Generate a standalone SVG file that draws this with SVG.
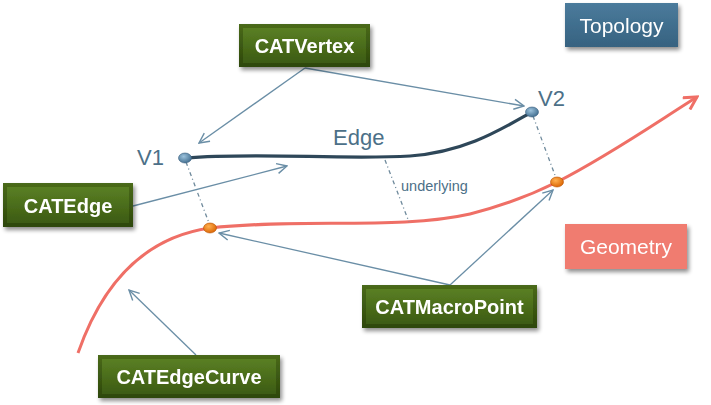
<svg xmlns="http://www.w3.org/2000/svg" width="711" height="405" viewBox="0 0 711 405">
<defs>
<linearGradient id="gOuter" x1="0" y1="0" x2="0" y2="1"><stop offset="0" stop-color="#4a6a1a"/><stop offset="1" stop-color="#2d470b"/></linearGradient>
<linearGradient id="gInner" x1="0" y1="0" x2="0" y2="1"><stop offset="0" stop-color="#5a7f24"/><stop offset="1" stop-color="#3c5b12"/></linearGradient>
<linearGradient id="gBlue" x1="0" y1="0" x2="0" y2="1"><stop offset="0" stop-color="#4b7b9c"/><stop offset="1" stop-color="#366280"/></linearGradient>
<radialGradient id="gDotB" cx="0.4" cy="0.35" r="0.7"><stop offset="0" stop-color="#9cc2dc"/><stop offset="1" stop-color="#3d6a8c"/></radialGradient>
<radialGradient id="gDotO" cx="0.4" cy="0.35" r="0.7"><stop offset="0" stop-color="#ffb050"/><stop offset="1" stop-color="#d96200"/></radialGradient>
<filter id="sh" x="-10%" y="-10%" width="130%" height="140%"><feGaussianBlur in="SourceAlpha" stdDeviation="2"/><feOffset dx="2" dy="3"/><feComponentTransfer><feFuncA type="linear" slope="0.45"/></feComponentTransfer><feMerge><feMergeNode/><feMergeNode in="SourceGraphic"/></feMerge></filter>
<marker id="ah" viewBox="0 0 12 12" refX="11" refY="6" markerWidth="12" markerHeight="12" markerUnits="userSpaceOnUse" orient="auto"><path d="M1,1 L11,6 L1,11" fill="none" stroke="#6a8ea6" stroke-width="1.4"/></marker>
<marker id="ahR" viewBox="0 0 14 14" refX="12" refY="7" markerWidth="16" markerHeight="16" markerUnits="userSpaceOnUse" orient="auto"><path d="M1,1 L12,7 L1,13" fill="none" stroke="#ef6f66" stroke-width="2.6" stroke-linejoin="miter"/></marker>
</defs>
<style>
.gbtxt{font-family:"Liberation Sans",Arial,sans-serif;font-weight:bold;font-size:20px;fill:#ffffff;text-anchor:middle}
.conn{fill:none;stroke:#6a8ea6;stroke-width:1.3;marker-end:url(#ah)}
.dot{fill:none;stroke:#6f8a9c;stroke-width:1.3;stroke-dasharray:4 3 1 3}
.lbl{font-family:"Liberation Sans",Arial,sans-serif;fill:#4c7088}
</style>
<rect width="711" height="405" fill="#ffffff"/>

<g id="curves">
<path d="M78,353 C100,290 140,238 210,228 C300,218 400,230 470,214 C510,204 535,193 557,182 C610,155 660,120 697,97" fill="none" stroke="#ef6f66" stroke-width="3" marker-end="url(#ahR)"/>
<path d="M185,158 C260,152 340,160 410,156 C465,152 500,130 532,112" fill="none" stroke="#2e4759" stroke-width="3.2"/>
</g>

<g id="connectors">
<line class="dot" x1="186" y1="162" x2="209" y2="223"/>
<line class="dot" x1="533" y1="116" x2="556" y2="178"/>
<line class="dot" x1="385" y1="160" x2="409" y2="222"/>
<path class="conn" d="M305,68 L199,143"/>
<path class="conn" d="M305,68 L524,106"/>
<path class="conn" d="M133,206 L287,166"/>
<path class="conn" d="M450,285 L219,233"/>
<path class="conn" d="M450,285 L553,190"/>
<path class="conn" d="M196,355 L129,290"/>
</g>

<g id="points">
<ellipse cx="185" cy="158" rx="6.5" ry="5" fill="url(#gDotB)" stroke="#3a6080" stroke-width="0.6"/>
<ellipse cx="532" cy="112" rx="6.5" ry="5" fill="url(#gDotB)" stroke="#3a6080" stroke-width="0.6"/>
<ellipse cx="210" cy="228" rx="6.5" ry="5" fill="url(#gDotO)" stroke="#b85000" stroke-width="0.6"/>
<ellipse cx="557" cy="182" rx="6.5" ry="5" fill="url(#gDotO)" stroke="#b85000" stroke-width="0.6"/>
</g>

<g id="labels">
<text class="lbl" x="137" y="165" font-size="22">V1</text>
<text class="lbl" x="538" y="106" font-size="22">V2</text>
<text class="lbl" x="333" y="145" font-size="22">Edge</text>
<text class="lbl" x="401" y="191" font-size="14.5" fill="#7890a0">underlying</text>
</g>

<g id="topology" filter="url(#sh)">
<rect x="565" y="3" width="113" height="44" fill="url(#gBlue)"/>
<text x="621.5" y="32.5" font-family="Liberation Sans,Arial,sans-serif" font-size="21" fill="#ffffff" text-anchor="middle">Topology</text>
</g>

<g id="geometry" filter="url(#sh)">
<rect x="565" y="224" width="122" height="45" fill="#f07b70"/>
<text x="626" y="254" font-family="Liberation Sans,Arial,sans-serif" font-size="21" fill="#ffffff" text-anchor="middle">Geometry</text>
</g>

<g id="catvertex" filter="url(#sh)">
<rect x="239" y="24" width="131" height="43" fill="url(#gOuter)"/>
<rect x="243" y="28" width="123" height="35" fill="url(#gInner)"/>
<text class="gbtxt" x="304.5" y="53">CATVertex</text>
</g>

<g id="catedge" filter="url(#sh)">
<rect x="3" y="183" width="130" height="44" fill="url(#gOuter)"/>
<rect x="7" y="187" width="122" height="36" fill="url(#gInner)"/>
<text class="gbtxt" x="68" y="212.5">CATEdge</text>
</g>

<g id="catmacropoint" filter="url(#sh)">
<rect x="362" y="285" width="175" height="43" fill="url(#gOuter)"/>
<rect x="366" y="289" width="167" height="35" fill="url(#gInner)"/>
<text class="gbtxt" x="449.5" y="314">CATMacroPoint</text>
</g>

<g id="catedgecurve" filter="url(#sh)">
<rect x="98" y="355" width="182" height="43" fill="url(#gOuter)"/>
<rect x="102" y="359" width="174" height="35" fill="url(#gInner)"/>
<text class="gbtxt" x="189" y="384">CATEdgeCurve</text>
</g>
</svg>
